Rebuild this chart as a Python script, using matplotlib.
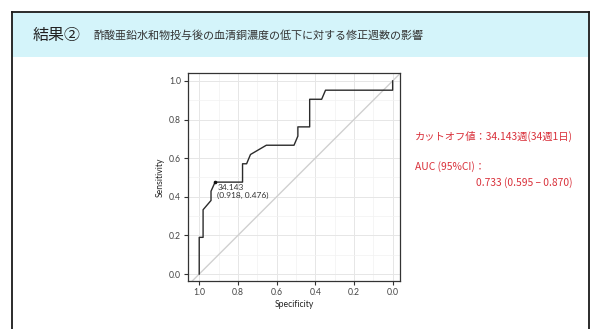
import matplotlib
matplotlib.use("Agg")
import matplotlib.pyplot as plt
from matplotlib.patches import Rectangle
from matplotlib.lines import Line2D
from matplotlib.ticker import MultipleLocator

plt.rcParams['font.family'] = ['Noto Sans CJK JP', 'DejaVu Sans']

# ROC curve (specificity, sensitivity)
specificity = [1.000, 1.000, 0.980, 0.980, 0.939, 0.939, 0.918, 0.776, 0.776,
               0.755, 0.735, 0.653, 0.510, 0.490, 0.490, 0.429, 0.429, 0.367,
               0.347, 0.000, 0.000]
sensitivity = [0.000, 0.190, 0.190, 0.333, 0.381, 0.429, 0.476, 0.476, 0.571,
               0.571, 0.619, 0.667, 0.667, 0.714, 0.762, 0.762, 0.905, 0.905,
               0.952, 0.952, 1.000]

# best threshold
cutoff_value = 34.143
cutoff_spec = 0.918
cutoff_sens = 0.476

ticks = [1.0, 0.8, 0.6, 0.4, 0.2, 0.0]

title = "結果②"
subtitle = "酢酸亜鉛水和物投与後の血清銅濃度の低下に対する修正週数の影響"
cutoff_text = "カットオフ値：34.143週(34週1日)"
auc_head = "AUC (95%CI)："
auc_text = "0.733 (0.595 – 0.870)"

W, H = 591, 329
fig = plt.figure(figsize=(W / 100, H / 100), dpi=100)
fig.patch.set_facecolor("white")


def fx(px):
    return px / W


def fy(py):
    return 1 - py / H


# slide header band and frame
fig.add_artist(Rectangle((fx(12), fy(57)), fx(576), 44 / H, transform=fig.transFigure,
                         facecolor="#d4f4fa", edgecolor="none", zorder=0))
frame_kw = dict(transform=fig.transFigure, color="#1a1a1a", lw=1.3, zorder=5)
fig.add_artist(Line2D([fx(11.5), fx(11.5)], [fy(11.5), 0], **frame_kw))
fig.add_artist(Line2D([fx(588.5), fx(588.5)], [fy(11.5), 0], **frame_kw))
fig.add_artist(Line2D([fx(11.5), fx(588.5)], [fy(11.5), fy(11.5)], **frame_kw))

fig.text(fx(33), fy(35), title, fontsize=11.5, color="#222222", va="center", ha="left")
fig.text(fx(93), fy(35), subtitle, fontsize=7.95, color="#333333", va="center", ha="left")

red = "#d9303a"
fig.text(fx(415), fy(136), cutoff_text, fontsize=7.4, color=red, va="center", ha="left")
fig.text(fx(415), fy(167), auc_head, fontsize=7.4, color=red, va="center", ha="left")
fig.text(fx(573), fy(183), auc_text, fontsize=7.4, color=red, va="center", ha="right")

# ROC panel
ax = fig.add_axes([fx(188), fy(281), fx(212), 208 / H])
ax.set_facecolor("white")
ax.set_xlim(1.058, -0.038)
ax.set_ylim(-0.036, 1.041)

ax.xaxis.set_major_locator(MultipleLocator(0.2))
ax.yaxis.set_major_locator(MultipleLocator(0.2))
ax.xaxis.set_minor_locator(MultipleLocator(0.1))
ax.yaxis.set_minor_locator(MultipleLocator(0.1))
ax.grid(which="major", color="#e6e6e6", lw=0.7)
ax.grid(which="minor", color="#f2f2f2", lw=0.5)
ax.tick_params(which="minor", length=0)
ax.set_axisbelow(True)

ax.set_xticks(ticks)
ax.set_yticks(ticks)
ax.set_xticklabels([f"{t:.1f}" for t in ticks], family=["Lato", "DejaVu Sans"])
ax.set_yticklabels([f"{t:.1f}" for t in ticks], family=["Lato", "DejaVu Sans"])
ax.tick_params(which="major", labelsize=6.2, colors="#333333", length=3, width=0.8,
               labelcolor="#444444", pad=2)

for s in ax.spines.values():
    s.set_color("#333333")
    s.set_linewidth(0.9)

ax.axline((1, 0), (0, 1), color="#d0d0d0", lw=1.0, zorder=2)
ax.plot(specificity, sensitivity, color="#2b2b2b", lw=1.0, zorder=3)
ax.plot([cutoff_spec], [cutoff_sens], "o", color="#111111", ms=1.6, zorder=4)
ax.annotate(f"{cutoff_value:.3f}\n({cutoff_spec:.3f}, {cutoff_sens:.3f})",
            xy=(cutoff_spec, cutoff_sens), xytext=(1.5, -1.5), textcoords="offset points",
            fontsize=6.0, family=["Lato", "DejaVu Sans"], color="#333333",
            ha="left", va="top", linespacing=1.05)

ax.set_xlabel("Specificity", fontsize=6.2, family=["Lato", "DejaVu Sans"], color="#222222", labelpad=2)
ax.set_ylabel("Sensitivity", fontsize=6.2, family=["Lato", "DejaVu Sans"], color="#222222", labelpad=3)

fig.savefig("out.png", dpi=100)
